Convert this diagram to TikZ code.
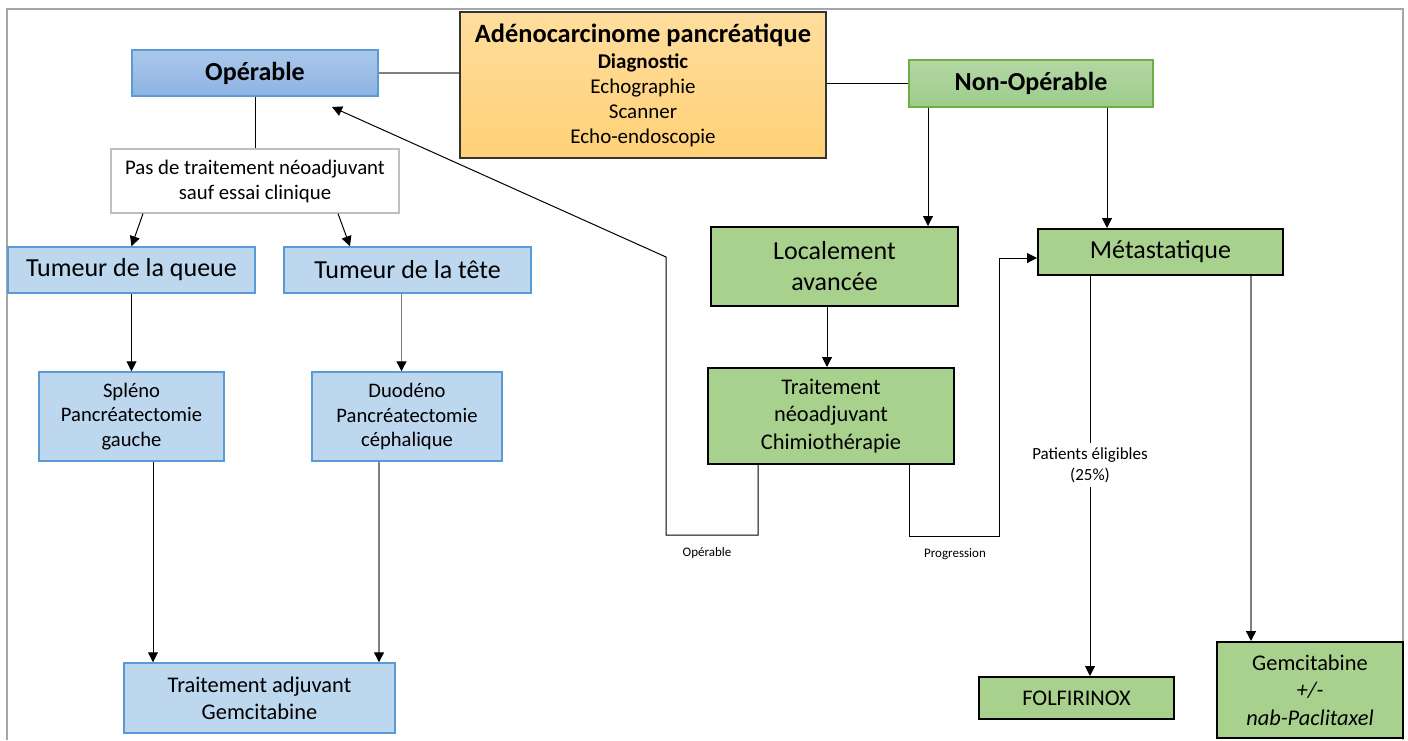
\documentclass[tikz,border=0pt]{standalone}
\usepackage{fontspec}
\setmainfont{Carlito}
\usetikzlibrary{arrows.meta}
\definecolor{bluefill}{HTML}{BDD7EE}
\definecolor{blueline}{HTML}{5B9BD5}
\definecolor{greenfill}{HTML}{A9D18E}
\definecolor{greenline}{HTML}{70AD47}
\definecolor{framegray}{HTML}{A6A6A6}
\definecolor{linkgray}{HTML}{7F7F7F}
\definecolor{orangetop}{HTML}{FFDD9C}
\definecolor{orangebot}{HTML}{FFD177}
\definecolor{bluetop}{HTML}{ABC8EB}
\definecolor{bluebot}{HTML}{8DB3E2}
\definecolor{greentop}{HTML}{B4D7A5}
\definecolor{greenbot}{HTML}{9DCC8A}
\tikzset{
  bluebox/.style={draw=blueline,fill=bluefill,line width=0.75pt,align=center,inner sep=0pt},
  greenbox/.style={draw=black,fill=greenfill,line width=1pt,align=center,inner sep=0pt},
  link/.style={draw=black,line width=0.5pt},
  graylink/.style={draw=linkgray,line width=0.7pt},
  arr/.style={-{Triangle[length=5pt,width=5pt,color=black]}},
  bigtext/.style={font=\fontsize{13}{15.5}\selectfont},
  midtext/.style={font=\fontsize{11.2}{13.7}\selectfont},
  smalltext/.style={font=\fontsize{10.3}{12.3}\selectfont}
}
\begin{document}
\begin{tikzpicture}[x=0.5pt,y=-0.5pt]
\useasboundingbox (0,0) rectangle (1408,740);
%\draw[step=50,gray,very thin] (0,0) grid (1408,740);
\draw[framegray,line width=1pt] (7,740) -- (7,9) -- (1403,9) -- (1403,740);

\node[draw=black!80,line width=0.6pt,top color=orangetop,bottom color=orangebot,
      minimum width=183pt,minimum height=73pt,align=center,inner sep=0pt,
      font=\fontsize{10.5}{12.5}\selectfont] (adeno) at (643,85)
  {{\fontsize{13.2}{14}\selectfont\bfseries Adénocarcinome pancréatique}\\[0.5pt]
   \textbf{Diagnostic}\\Echographie\\Scanner\\Echo-endoscopie};
\node[draw=blueline,line width=0.75pt,top color=bluetop,bottom color=bluebot,
      minimum width=123pt,minimum height=23pt,inner sep=0pt,font=\fontsize{13}{15.5}\selectfont\bfseries] (oper) at (255,73) {Opérable};
\node[draw=greenline,line width=0.6pt,top color=greentop,bottom color=greenbot,
      minimum width=122pt,minimum height=23.5pt,inner sep=0pt,font=\fontsize{13}{15.5}\selectfont\bfseries] (nonop) at (1031,83.5) {Non-Opérable};

\node[draw=black!25,fill=white,line width=0.6pt,minimum width=144pt,minimum height=32pt,align=center,inner sep=0pt,
      font=\fontsize{10.4}{12.5}\selectfont] (pas) at (255,181) {Pas de traitement néoadjuvant\\sauf essai clinique};
\node[bluebox,bigtext,minimum width=123.5pt,minimum height=23pt] (queue) at (131.5,270) {Tumeur de la queue};
\node[bluebox,bigtext,minimum width=123.5pt,minimum height=23pt] (tete) at (407.5,270) {Tumeur de la tête};
\node[bluebox,smalltext,minimum width=92.5pt,minimum height=44.5pt] (spleno) at (131.5,416.5) {Spléno\\Pancréatectomie\\gauche};
\node[bluebox,smalltext,minimum width=95pt,minimum height=44.5pt] (duodeno) at (407,416.5) {Duodéno\\Pancréatectomie\\céphalique};
\node[bluebox,midtext,minimum width=135.5pt,minimum height=35pt] (adjuvant) at (259.5,698) {Traitement adjuvant\\Gemcitabine};

\node[greenbox,bigtext,minimum width=123.5pt,minimum height=39.5pt] (locale) at (834.5,266.5) {Localement\\avancée};
\node[greenbox,font=\fontsize{11.2}{13.8}\selectfont,minimum width=123pt,minimum height=48pt] (neoadj) at (831,416) {Traitement\\néoadjuvant\\Chimiothérapie};
\node[greenbox,bigtext,minimum width=122.5pt,minimum height=23pt] (meta) at (1160.5,252) {Métastatique};
\node[greenbox,midtext,minimum width=97.5pt,minimum height=21pt] (folfi) at (1076.5,698) {FOLFIRINOX};
\node[greenbox,midtext,minimum width=93pt,minimum height=48pt] (gemci) at (1310,690) {Gemcitabine\\\textit{+/-}\\\textit{nab-Paclitaxel}};

\node[align=center,inner sep=2pt,font=\fontsize{8.5}{10.5}\selectfont] (elig) at (1090,465) {Patients éligibles\\(25\%)};
\node[font=\fontsize{6.5}{8}\selectfont] (lbop) at (707,553) {Opérable};
\node[font=\fontsize{6.5}{8}\selectfont] (lbprog) at (955,554) {Progression};

\coordinate (opdown) at (666,535);
\coordinate (opup) at (666,257);
\coordinate (optip) at (332,107);
\coordinate (progdown) at (999,536);

\draw[graylink] (oper.east) -- (oper.east -| adeno.west);
\draw[link] (nonop.west -| adeno.east) -- (nonop.west);
\draw[link] (oper.south) -- (pas.north);
\draw[link,arr] ([xshift=-56pt]pas.south) -- (queue.north);
\draw[link,arr] ([xshift=41.5pt]pas.south) -- ([xshift=-28.75pt]tete.north);
\draw[link,arr] (queue.south) -- (queue.south |- spleno.north);
\draw[graylink,arr] ([xshift=-3pt]tete.south) -- ([xshift=-3pt]tete.south |- duodeno.north);
\draw[link,arr] ([xshift=10.75pt]spleno.south) -- ([xshift=10.75pt]spleno.south |- adjuvant.north);
\draw[graylink,arr] ([xshift=-14pt]duodeno.south) -- ([xshift=-14pt]duodeno.south |- adjuvant.north);

\draw[link,arr] ([xshift=-51.5pt]nonop.south) -- ([xshift=-51.5pt]nonop.south |- locale.north);
\draw[link,arr] ([xshift=38pt]nonop.south) -- ([xshift=38pt]nonop.south |- meta.north);
\draw[link,arr] ([xshift=-3.75pt]locale.south) -- ([xshift=-3.75pt]locale.south |- neoadj.north);
\draw[link,arr] ([xshift=-36.5pt]neoadj.south) |- (opdown) -- (opup) -- (optip);
\draw[link,arr] ([xshift=39pt]neoadj.south) |- (progdown) |- ([yshift=-3pt]meta.west);
\draw[link] ([xshift=-35.25pt]meta.south) -- (elig.north);
\draw[link,arr] (elig.south) -- (elig.south |- folfi.north);
\draw[graylink,arr] ([xshift=45.25pt]meta.south) -- ([xshift=45.25pt]meta.south |- gemci.north);
\end{tikzpicture}
\end{document}
